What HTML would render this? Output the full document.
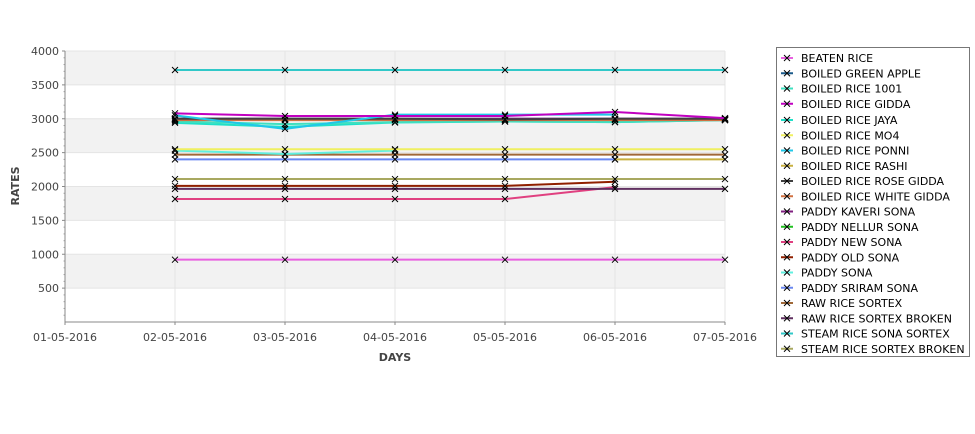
<!DOCTYPE html>
<html><head><meta charset="utf-8"><style>
body{margin:0;background:#fff;font-family:"Liberation Sans","DejaVu Sans",sans-serif}
svg text{font-family:"DejaVu Sans","Liberation Sans",sans-serif}
</style></head><body>
<svg id="c" width="975" height="429" xmlns="http://www.w3.org/2000/svg">
<g id="plot"></g>
<g id="legend"></g>
</svg>
<script>
const categories=["01-05-2016","02-05-2016","03-05-2016","04-05-2016","05-05-2016","06-05-2016","07-05-2016"];
const yTicks=[500,1000,1500,2000,2500,3000,3500,4000];
const seriesNames=["BEATEN RICE","BOILED GREEN APPLE","BOILED RICE 1001","BOILED RICE GIDDA","BOILED RICE JAYA","BOILED RICE MO4","BOILED RICE PONNI","BOILED RICE RASHI","BOILED RICE ROSE GIDDA","BOILED RICE WHITE GIDDA","PADDY KAVERI SONA","PADDY NELLUR SONA","PADDY NEW SONA","PADDY OLD SONA","PADDY SONA","PADDY SRIRAM SONA","RAW RICE SORTEX","RAW RICE SORTEX BROKEN","STEAM RICE SONA SORTEX","STEAM RICE SORTEX BROKEN"];
const seriesColors=["#e860e0","#1a5a8a","#40e0c0","#c000c0","#20e0c8","#f0f060","#20c8e8","#c8b040","#404040","#d07040","#802080","#20c020","#e04080","#902000","#60f0e0","#6a88f0","#a06838","#603060","#30c8c8","#a8a860"];
const v0=[null,920,920,920,920,920,920];
const v1=[null,3000,3000,3000,3000,3000,3000];
const v2=[null,2960,2920,2950,2960,2950,2980];
const v3=[null,3080,3040,3040,3040,3100,3010];
const v4=[null,2940,2880,2945,2960,2950,2980];
const v5=[null,2550,2550,2550,2550,2550,2550];
const v6=[null,3050,2850,3060,3060,3060,null];
const v7=[null,null,null,null,null,2400,2400];
const v8=[null,3000,3000,3000,2990,3000,3000];
const v9=[null,2980,2980,2980,2980,2980,2980];
const v10=[null,3000,3000,3000,3000,3000,3000];
const v11=[null,2990,2990,2990,2990,2990,2990];
const v12=[null,1815,1815,1815,1815,1990,null];
const v13=[null,2010,2010,2010,2010,2070,null];
const v14=[null,2530,2480,2530,null,null,null];
const v15=[null,2400,2400,2400,2400,2400,null];
const v16=[null,2470,2470,2470,2470,2470,2470];
const v17=[null,1965,1965,1965,1965,1965,1965];
const v18=[null,3720,3720,3720,3720,3720,3720];
const v19=[null,2110,2110,2110,2110,2110,2110];
const seriesValues=[v0,v1,v2,v3,v4,v5,v6,v7,v8,v9,v10,v11,v12,v13,v14,v15,v16,v17,v18,v19];
const drawOrder=[0,12,17,13,19,15,7,16,14,5,4,2,1,11,10,9,8,6,3,18];

const NS="http://www.w3.org/2000/svg";
const L=65,R=725,T=51,B=322,YMAX=4000;
function xs(i){return L+(R-L)*i/(categories.length-1);}
function ys(v){return B-(B-T)*v/YMAX;}
function mk(tag,attrs,parent){const e=document.createElementNS(NS,tag);for(const k in attrs)e.setAttribute(k,attrs[k]);parent.appendChild(e);return e;}
const plot=document.getElementById('plot');
// bands
for(let v=0;v<YMAX;v+=500){
  if(((v/500)%2)===1){const r=mk('rect',{x:L,y:ys(v+500),width:R-L,height:ys(v)-ys(v+500),fill:'#f2f2f2'},plot);
  
  }
}
yTicks.forEach(v=>{
  const g=mk('line',{x1:L,x2:R,y1:ys(v),y2:ys(v),stroke:'#e4e4e4','stroke-width':1},plot);
  
  
  const t=mk('text',{x:L-6,y:ys(v)+4,'text-anchor':'end','font-size':11,fill:'#444'},plot);
  t.textContent=v;
  
  
  mk('line',{x1:L-3,x2:L,y1:ys(v),y2:ys(v),stroke:'#888'},plot);
});
for(let v=100;v<YMAX;v+=100){if(v%500)mk('line',{x1:L-1.5,x2:L,y1:ys(v),y2:ys(v),stroke:'#aaa'},plot);}
categories.forEach((c,i)=>{
  const g=mk('line',{x1:xs(i),x2:xs(i),y1:T,y2:B,stroke:'#e4e4e4'},plot);
  
  
  mk('line',{x1:xs(i),x2:xs(i),y1:B,y2:B+3,stroke:'#888'},plot);
  const t=mk('text',{x:xs(i),y:B+19,'text-anchor':'middle','font-size':11,fill:'#444'},plot);
  t.textContent=c;
  
  
});
mk('line',{x1:L,x2:L,y1:T,y2:B,stroke:'#888'},plot);
mk('line',{x1:L,x2:R,y1:B,y2:B,stroke:'#888'},plot);
const yt=mk('text',{x:19,y:186,'text-anchor':'middle','font-size':11,'font-weight':'bold',fill:'#444',transform:'rotate(-90 19 186)'},plot);
yt.textContent='RATES';


const xt=mk('text',{x:395,y:361,'text-anchor':'middle','font-size':11,'font-weight':'bold',fill:'#444'},plot);
xt.textContent='DAYS';



function cross(x,y,parent){mk('path',{d:`M${x-3} ${y-3}L${x+3} ${y+3}M${x-3} ${y+3}L${x+3} ${y-3}`,stroke:'#000','stroke-width':1},parent);}
drawOrder.forEach(s=>{
  const vals=seriesValues[s];
  const g=mk('g',{},plot);
  
  
  let d='';let pen=false;
  vals.forEach((v,i)=>{if(v==null){pen=false;return;}d+=(pen?'L':'M')+xs(i)+' '+ys(v);pen=true;});
  mk('path',{d:d,fill:'none',stroke:seriesColors[s],'stroke-width':2},g);
  vals.forEach((v,i)=>{if(v!=null)cross(xs(i),ys(v),g);});
});
// legend
const lg=document.getElementById('legend');
mk('rect',{x:776.5,y:47.5,width:193,height:309,fill:'#fff',stroke:'#777'},lg);
seriesNames.forEach((n,i)=>{
  const y=58+i*15.25+(i>=4?1:0);
  const e=mk('g',{},lg);
  
  
  mk('line',{x1:781,x2:793,y1:y,y2:y,stroke:seriesColors[i],'stroke-width':2},e);
  cross(787,y,e);
  const t=mk('text',{x:801,y:y+4,'font-size':11,fill:'#000'},e);
  t.textContent=n;
});
</script>
</body></html>
